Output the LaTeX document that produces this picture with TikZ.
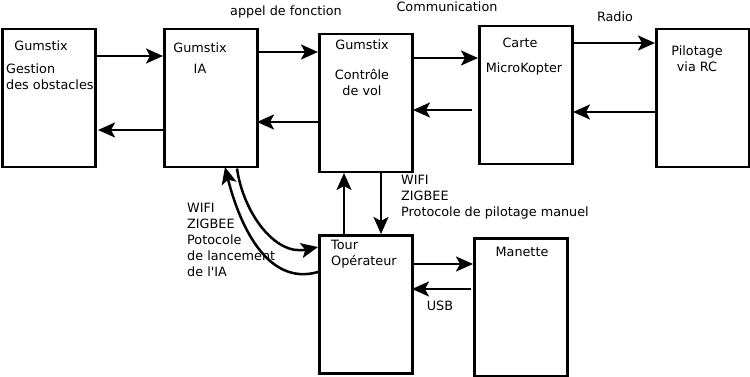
\documentclass[tikz,border=0pt]{standalone}
\usepackage{fontspec}
\setmainfont{DejaVu Sans}
\usetikzlibrary{arrows.meta}

\tikzset{
  bloc/.style={draw, line width=2.5pt, rectangle, anchor=north west, inner sep=0pt},
  lien/.style={line width=2.5pt, -{Stealth[length=17pt,width=15pt,inset=4pt]}},
  txt/.style={inner sep=0pt, font=\fontsize{12.8}{16}\selectfont},
  txtg/.style={txt, anchor=north west, align=left}
}

\begin{document}
\begin{tikzpicture}[x=1pt, y=-1pt]
    \useasboundingbox (0,0) rectangle (750,377);

    % les blocs
    \node[bloc, minimum width=93, minimum height=138] (obst) at (1,28) {};
    \node[bloc, minimum width=93, minimum height=138] (ia) at (163,28) {};
    \node[bloc, minimum width=93, minimum height=138] (vol) at (318,33) {};
    \node[bloc, minimum width=93, minimum height=138] (carte) at (478,25) {};
    \node[bloc, minimum width=93, minimum height=138] (rc) at (655,28) {};
    \node[bloc, minimum width=93, minimum height=138] (tour) at (318,234) {};
    \node[bloc, minimum width=93, minimum height=138] (manette) at (473,237) {};

    % textes des blocs
    \node[txt] (t1) at (41,46) {Gumstix};
    \node[txtg] (t2) at (6,64) {Gestion\\des obstacles};
    \node[txt] (t3) at (200,48) {Gumstix};
    \node[txt] (t4) at (200,69) {IA};
    \node[txt] (t5) at (362,45) {Gumstix};
    \node[txt, align=center] (t6) at (362,82) {Contrôle\\de vol};
    \node[txt] (t7) at (520,43) {Carte};
    \node[txt] (t8) at (524,69) {MicroKopter};
    \node[txt, align=center] (t9) at (697,59) {Pilotage\\via RC};
    \node[txtg] (t10) at (331,240) {Tour\\Opérateur};
    \node[txt] (t11) at (522,252) {Manette};

    % liaisons horizontales
    \draw[lien] (obst.east |- 0,56) -- (ia.west |- 0,56);
    \draw[lien] (ia.west |- 0,130) -- (98,130);
    \draw[lien] (ia.east |- 0,52) -- (vol.west |- 0,52);
    \draw[lien] (vol.west |- 0,122) -- (257,122);
    \draw[lien] (vol.east |- 0,58) -- (carte.west |- 0,58);
    \draw[lien] (472,110) -- (413,110);
    \draw[lien] (carte.east |- 0,43) -- (rc.west |- 0,43);
    \draw[lien] (rc.west |- 0,112) -- (573,112);
    \draw[lien] (tour.east |- 0,264) -- (manette.west |- 0,264);
    \draw[lien] (471,289) -- (412,289);

    % liaisons verticales
    \draw[lien] (tour.north -| 344,0) -- (344,173);
    \draw[lien] (381,173) -- (tour.north -| 381,0);

    % liaisons courbes IA / tour
    \draw[lien] (ia.south -| 237,0) to[out=-82, in=192] (tour.west |- 0,247);
    \draw[lien] (tour.west |- 0,272) to[out=196, in=-76] (225,167);

    % etiquettes
    \node[txt] (l1) at (286,12) {appel de fonction};
    \node[txt] (l2) at (447,7) {Communication};
    \node[txt] (l3) at (615,17) {Radio};
    \node[txtg] (l4) at (401,175) {WIFI\\ZIGBEE\\Protocole de pilotage manuel};
    \node[txtg] (l5) at (187,203) {WIFI\\ZIGBEE\\Potocole\\de lancement\\de l\textquotesingle IA};
    \node[txt] (l6) at (440,306) {USB};
\end{tikzpicture}
\end{document}
